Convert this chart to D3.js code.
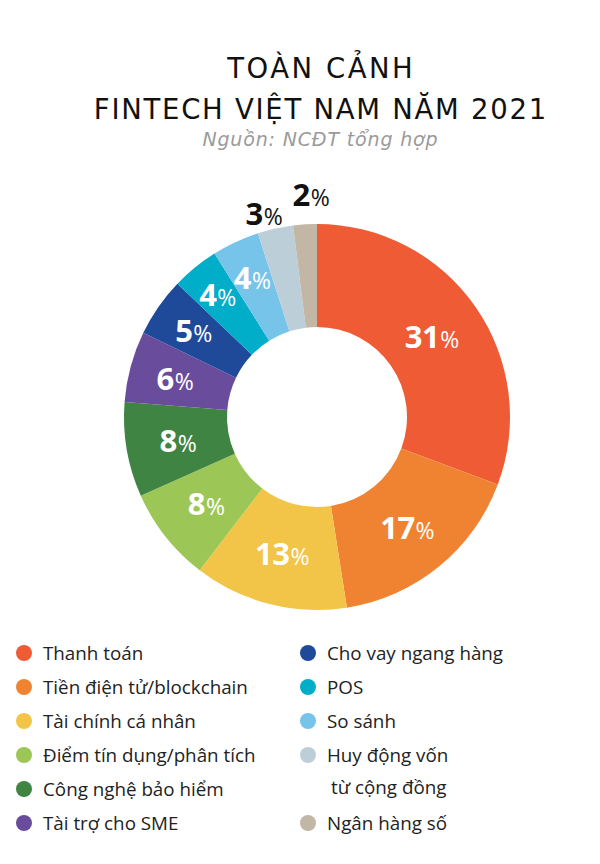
<!DOCTYPE html>
<html>
<head>
<meta charset="utf-8">
<script src="https://cdn.jsdelivr.net/npm/d3@7"></script>
<style>
  body { margin: 0; background: #ffffff; }
  svg { display: block; }
  text { font-family: "Open Sans", "Noto Sans", sans-serif; }
  .title { font-family: "DejaVu Sans", "Open Sans", sans-serif; }
</style>
</head>
<body>
<script>
// du lieu bieu do
var categories = ["Thanh toán", "Tiền điện tử/blockchain", "Tài chính cá nhân", "Điểm tín dụng/phân tích",
  "Công nghệ bảo hiểm", "Tài trợ cho SME", "Cho vay ngang hàng", "POS", "So sánh",
  "Huy động vốn\ntừ cộng đồng", "Ngân hàng số"];
var values = [31, 17, 13, 8, 8, 6, 5, 4, 4, 3, 2];
var colors = ["#ee5b35", "#f08332", "#f2c447", "#9cc757", "#3f8443", "#6a4c9c", "#1f4a9a",
  "#00aec9", "#76c4ea", "#bccfd9", "#c2b6a5"];
var outside = [false, false, false, false, false, false, false, false, false, true, true];

var width = 600, height = 864;
var cx = 317, cy = 417, rOuter = 193, rInner = 90;

var svg = d3.select("body").append("svg").attr("width", width).attr("height", height);

// gian chu cho rong bang ban goc (font Montserrat khong co)
function fitWidth(t, target) {
  var n = t.text().length;
  var len = t.node().getComputedTextLength();
  var ls = (target - len) / n;
  t.attr("letter-spacing", ls).attr("dx", ls / 2);
}

// tieu de
var t1 = svg.append("text").attr("class", "title").attr("x", 320).attr("y", 78).attr("text-anchor", "middle")
  .attr("font-size", 27.5).attr("fill", "#111").text("TOÀN CẢNH");
var t2 = svg.append("text").attr("class", "title").attr("x", 320).attr("y", 119).attr("text-anchor", "middle")
  .attr("font-size", 27.5).attr("fill", "#111").text("FINTECH VIỆT NAM NĂM 2021");
var t3 = svg.append("text").attr("class", "title").attr("x", 320).attr("y", 146).attr("text-anchor", "middle")
  .attr("font-size", 19).attr("font-style", "italic").attr("fill", "#9a9a9a").text("Nguồn: NCĐT tổng hợp");
fitWidth(t1, 188);
fitWidth(t2, 454);
fitWidth(t3, 236);

var pie = d3.pie().sort(null).value(function(d) { return d; });
var arcs = pie(values);
var arc = d3.arc().innerRadius(rInner).outerRadius(rOuter);

// ban kinh dat nhan (lat nho dat xa hon), nhan ngoai vong dich ngang
var labelR = [140, 143, 141, 141, 141, 147, 150, 157, 153, 208, 222];
var labelDx = [0, 0, 0, 0, 0, 0, 0, 0, 0, -8, 8];

var g = svg.append("g").attr("transform", "translate(" + cx + "," + cy + ")");

g.selectAll("path").data(arcs).enter().append("path")
  .attr("d", arc)
  .attr("fill", function(d, i) { return colors[i]; });

var label = g.selectAll("text.lbl").data(arcs).enter().append("text")
  .attr("class", "lbl")
  .attr("text-anchor", "middle")
  .attr("transform", function(d, i) {
    var r = labelR[i];
    var p = d3.arc().innerRadius(r).outerRadius(r).centroid(d);
    return "translate(" + (p[0] + labelDx[i]) + "," + (p[1] + 11) + ")";
  })
  .attr("fill", function(d, i) { return outside[i] ? "#111" : "#fff"; });

label.append("tspan").attr("font-size", 31).attr("font-weight", "bold")
  .attr("letter-spacing", -0.5)
  .text(function(d) { return d.data; });
label.append("tspan").attr("font-size", 23).attr("dx", 1).text("%");

// chu thich
var legend = svg.append("g");
var rowH = 34;
var leg = legend.selectAll("g").data(categories).enter().append("g")
  .attr("transform", function(d, i) {
    var col = i < 6 ? 0 : 1;
    var row = col == 0 ? i : i - 6;
    if (col == 1 && i == 10) row = 5;
    return "translate(" + (col == 0 ? 24 : 308) + "," + (653 + row * rowH) + ")";
  });
leg.append("circle").attr("r", 8).attr("fill", function(d, i) { return colors[i]; });
leg.each(function(d) {
  var lines = d.split("\n");
  var t = d3.select(this).append("text").attr("x", 19).attr("y", 7)
    .attr("font-size", 18.8).attr("fill", "#222");
  lines.forEach(function(l, j) {
    t.append("tspan").attr("x", j == 0 ? 19 : 23).attr("dy", j == 0 ? 0 : 32).text(l);
  });
});
</script>
</body>
</html>
